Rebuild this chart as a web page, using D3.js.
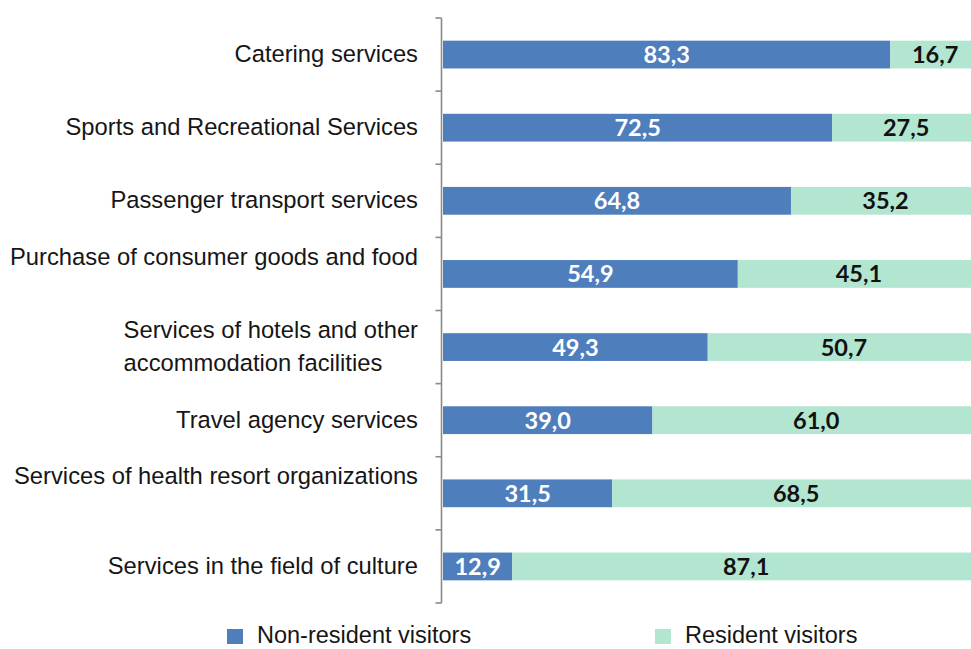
<!DOCTYPE html>
<html>
<head>
<meta charset="utf-8">
<script src="https://cdn.jsdelivr.net/npm/d3@7"></script>
<style>
  html, body { margin: 0; padding: 0; background: #ffffff; }
  svg { display: block; }
</style>
</head>
<body>
<svg id="chart" width="971" height="649"></svg>
<script>
// Service categories (top to bottom); an empty trailing line lifts a label above its bar
const categories = [
  "Catering services",
  "Sports and Recreational Services",
  "Passenger transport services",
  "Purchase of consumer goods and food",
  "Services of hotels and other accommodation facilities",
  "Travel agency services",
  "Services of health resort organizations",
  "Services in the field of culture"
];
const categoryLines = [
  ["Catering services"],
  ["Sports and Recreational Services"],
  ["Passenger transport services"],
  ["Purchase of consumer goods and food", ""],
  ["Services of hotels and other", "accommodation facilities"],
  ["Travel agency services"],
  ["Services of health resort organizations", ""],
  ["Services in the field of culture"]
];

// Share of consumption, %
const nonResident = [83.3, 72.5, 64.8, 54.9, 49.3, 39.0, 31.5, 12.9];
const resident    = [16.7, 27.5, 35.2, 45.1, 50.7, 61.0, 68.5, 87.1];

const seriesNames = ["Non-resident visitors", "Resident visitors"];
const seriesColors = ["#4f7ebd", "#b3e6d0"];
const labelColors = ["#ffffff", "#111111"];

const svg = d3.select("#chart");

const x = d3.scaleLinear().domain([0, 100]).range([443, 980]);
const y = d3.scaleBand()
  .domain(categories)
  .range([18, 603])
  .paddingInner(0.62)
  .paddingOuter(0.31);

const rows = categories.map((c, i) => ({ cat: c, vals: [nonResident[i], resident[i]] }));
const stack = d3.stack().keys([0, 1]).value((d, k) => d.vals[k]);
const layers = stack(rows);

const fmt = v => v.toFixed(1).replace(".", ",");

// Bars with value labels centred in each segment
const g = svg.append("g");
layers.forEach((layer, k) => {
  const lg = g.append("g");
  lg.selectAll("rect")
    .data(layer)
    .join("rect")
    .attr("x", d => x(d[0]))
    .attr("y", d => y(d.data.cat))
    .attr("width", d => x(d[1]) - x(d[0]))
    .attr("height", y.bandwidth())
    .attr("fill", seriesColors[k]);
  lg.selectAll("text")
    .data(layer)
    .join("text")
    .attr("x", d => (x(d[0]) + x(d[1])) / 2)
    .attr("y", d => y(d.data.cat) + y.bandwidth() / 2)
    .attr("dy", "0.36em")
    .attr("text-anchor", "middle")
    .attr("font-family", "Lato, 'Open Sans', sans-serif")
    .attr("font-weight", "bold")
    .attr("font-size", "23.5px")
    .attr("fill", labelColors[k])
    .text(d => fmt(d.data.vals[k]));
});

// Category axis with ticks at band boundaries
const axisX = 441.5;
const step = y.step();
const bounds = d3.range(categories.length + 1).map(i => 18 + i * step);
const ax = svg.append("g").attr("stroke", "#8a8a8a").attr("stroke-width", 1.6);
ax.append("line")
  .attr("x1", axisX).attr("x2", axisX)
  .attr("y1", bounds[0]).attr("y2", bounds[bounds.length - 1]);
ax.selectAll("line.tick")
  .data(bounds)
  .join("line")
  .attr("class", "tick")
  .attr("x1", axisX - 6).attr("x2", axisX)
  .attr("y1", d => d).attr("y2", d => d);

// Category labels: right-aligned block, wrapped lines left-aligned inside it
const lineH = 33;
const labelRight = 418;
const labels = svg.append("g")
  .attr("font-family", "'Liberation Sans', Arial, sans-serif")
  .attr("font-size", "23.75px")
  .attr("fill", "#161616");
categories.forEach((c, i) => {
  const lines = categoryLines[i];
  const cy = y(c) + y.bandwidth() / 2 - 1;
  const t = labels.append("text");
  const spans = lines.map((ln, j) => t.append("tspan")
    .attr("y", cy + (j - (lines.length - 1) / 2) * lineH)
    .attr("dy", "0.35em")
    .text(ln));
  const widths = spans.map(s => s.node().getComputedTextLength());
  const left = labelRight - d3.max(widths);
  spans.forEach(s => s.attr("x", left));
});

// Legend along the bottom edge
const legendX = [227, 655];
const legend = svg.append("g");
seriesNames.forEach((name, k) => {
  legend.append("rect")
    .attr("x", legendX[k]).attr("y", 629)
    .attr("width", 16).attr("height", 15)
    .attr("fill", seriesColors[k]);
  legend.append("text")
    .attr("x", legendX[k] + 30).attr("y", 643)
    .attr("font-family", "'Liberation Sans', Arial, sans-serif")
    .attr("font-size", "23.5px")
    .attr("fill", "#161616")
    .text(name);
});
</script>
</body>
</html>
